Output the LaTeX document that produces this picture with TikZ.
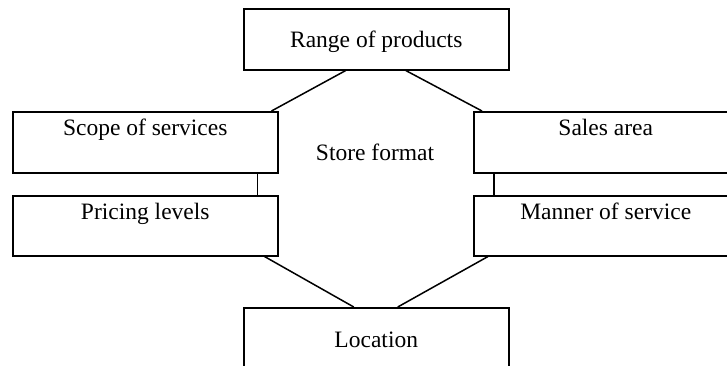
\documentclass[tikz,border=0pt]{standalone}
\usepackage{fontspec}
\setmainfont{Liberation Serif}
\usetikzlibrary{calc}
\begin{document}
\begin{tikzpicture}[x=1pt,y=-1pt,
  box/.style={draw,line width=1.5pt,inner xsep=0pt,inner ysep=0pt,anchor=north west,
    font=\fontsize{23.5}{28}\selectfont,align=center},
  conn/.style={line width=1.5pt}]
\clip (0,0) rectangle (727,365);
\fill[white] (0,0) rectangle (727,365);
\node[box,minimum width=265pt,text height=39pt,text depth=22pt] (top) at (243,8) {Range of products};
\node[box,minimum width=265pt,text height=24pt,text depth=37pt] (scope) at (12,111) {Scope of services};
\node[box,minimum width=265pt,text height=23.5pt,text depth=36.5pt] (pricing) at (12,195) {Pricing levels};
\node[box,minimum width=264pt,text height=24pt,text depth=37pt] (sales) at (473,111) {Sales area};
\node[box,minimum width=264pt,text height=23.5pt,text depth=36.5pt] (manner) at (473,195) {Manner of service};
\node[box,minimum width=265pt,text height=40pt,text depth=30pt] (loc) at (243,307) {Location};
\node[font=\fontsize{23.5}{28}\selectfont] (sf) at (375,152) {Store format};
\draw[conn] ($(top.south)+(-30.5,0)$) -- ($(scope.north east)+(-7,0)$);
\draw[conn] ($(top.south)+(29.5,0)$) -- ($(sales.north west)+(9,0)$);
\draw[conn] ($(scope.south east)+(-21,0)$) -- ($(pricing.north east)+(-21,0)$);
\draw[conn] ($(sales.south west)+(21,0)$) -- ($(manner.north west)+(21,0)$);
\draw[conn] ($(pricing.south east)+(-14,0)$) -- ($(loc.north)+(-22.5,0)$);
\draw[conn] ($(manner.south west)+(15,0)$) -- ($(loc.north)+(21.5,0)$);
\end{tikzpicture}
\end{document}
